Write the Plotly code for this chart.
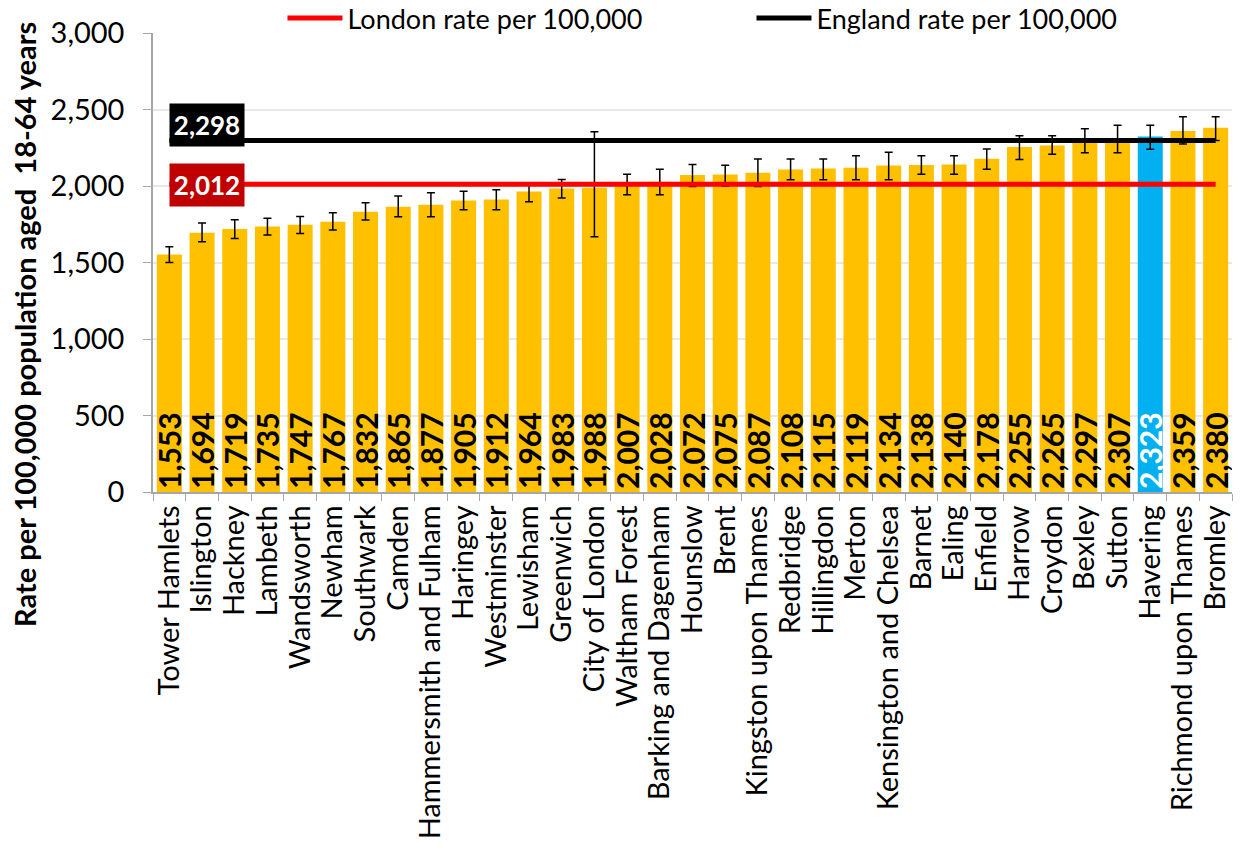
import plotly.graph_objects as go

categories = ["Tower Hamlets", "Islington", "Hackney", "Lambeth", "Wandsworth", "Newham",
              "Southwark", "Camden", "Hammersmith and Fulham", "Haringey", "Westminster",
              "Lewisham", "Greenwich", "City of London", "Waltham Forest", "Barking and Dagenham",
              "Hounslow", "Brent", "Kingston upon Thames", "Redbridge", "Hillingdon", "Merton",
              "Kensington and Chelsea", "Barnet", "Ealing", "Enfield", "Harrow", "Croydon",
              "Bexley", "Sutton", "Havering", "Richmond upon Thames", "Bromley"]
values = [1553, 1694, 1719, 1735, 1747, 1767, 1832, 1865, 1877, 1905, 1912, 1964, 1983, 1988,
          2007, 2028, 2072, 2075, 2087, 2108, 2115, 2119, 2134, 2138, 2140, 2178, 2255, 2265,
          2297, 2307, 2323, 2359, 2380]
errors_plus = [50, 64, 60, 55, 54, 58, 59, 69, 79, 60, 64, 58, 60, 366, 69, 81, 69, 60, 90, 69,
               62, 79, 86, 60, 58, 64, 74, 64, 78, 90, 74, 93, 72]
errors_minus = [53, 59, 62, 56, 57, 55, 55, 66, 78, 60, 67, 67, 62, 320, 64, 85, 75, 76, 90, 67,
                74, 78, 93, 62, 64, 69, 81, 58, 79, 89, 83, 84, 83]
highlight = "Havering"
london_rate = 2012
england_rate = 2298
y_ticks = [0, 500, 1000, 1500, 2000, 2500, 3000]

FONT = "Lato, Carlito, 'Liberation Sans', sans-serif"
GOLD = "#FFC000"
BLUE = "#00B0F0"

bar_colors = [BLUE if c == highlight else GOLD for c in categories]
text_colors = ["#FFFFFF" if c == highlight else "#000000" for c in categories]

fig = go.Figure()
fig.add_trace(go.Bar(
    x=categories, y=values,
    marker=dict(color=bar_colors, line=dict(width=0)),
    error_y=dict(type="data", array=errors_plus, arrayminus=errors_minus, symmetric=False,
                 visible=True, color="#000000", thickness=1.5, width=4),
    text=[f"{v:,}" for v in values],
    textposition="inside", insidetextanchor="start", textangle=-90,
    constraintext="none",
    textfont=dict(family=FONT, size=30, color=text_colors, weight="bold"),
    showlegend=False, hoverinfo="x+y",
))
fig.add_trace(go.Scatter(
    x=[categories[0], categories[-1]], y=[london_rate, london_rate], mode="lines",
    line=dict(color="#FF0000", width=5), name="London rate per 100,000",
))
fig.add_trace(go.Scatter(
    x=[categories[0], categories[-1]], y=[england_rate, england_rate], mode="lines",
    line=dict(color="#000000", width=5), name="England rate per 100,000",
))

fig.add_annotation(x=categories[0], y=england_rate, xref="x", yref="y", text=f"<b>{england_rate:,}</b>",
                   showarrow=False, xanchor="left", yanchor="middle", yshift=15, width=72, height=40,
                   bgcolor="#000000", font=dict(family=FONT, size=26, color="#FFFFFF"))
fig.add_annotation(x=categories[0], y=london_rate, xref="x", yref="y", text=f"<b>{london_rate:,}</b>",
                   showarrow=False, xanchor="left", yanchor="middle", yshift=-1, width=72, height=40,
                   bgcolor="#C00000", font=dict(family=FONT, size=26, color="#FFFFFF"))

# y-axis title placed as a rotated annotation (centred like the original)
fig.add_annotation(x=-0.1186, y=0.364, xref="paper", yref="paper",
                   text="<b>Rate per 100,000 population aged  18-64 years</b>",
                   textangle=-90, showarrow=False, xanchor="center", yanchor="middle",
                   font=dict(family=FONT, size=29, color="#000000"))

fig.update_layout(
    width=1240, height=854,
    margin=dict(l=153, r=8, t=33, b=362, autoexpand=False),
    paper_bgcolor="#FFFFFF", plot_bgcolor="#FFFFFF",
    font=dict(family=FONT, size=28, color="#000000"),
    bargap=0.235,
    legend=dict(orientation="h", x=0.12, xanchor="left", y=1.085, yanchor="top",
                font=dict(family=FONT, size=27, color="#000000"),
                entrywidth=399, bgcolor="rgba(0,0,0,0)", itemwidth=55),
    xaxis=dict(type="category", tickmode="array", tickvals=categories, ticktext=categories,
               tickangle=-90, showline=True, linecolor="#A6A6A6", linewidth=1.5,
               ticks="outside", tickson="boundaries", ticklen=7, tickcolor="#A6A6A6",
               tickfont=dict(family=FONT, size=29, color="#000000"), showgrid=False),
    yaxis=dict(range=[0, 3000], tickvals=y_ticks, ticktext=[f"{t:,}" for t in y_ticks],
               showline=True, linecolor="#A6A6A6", linewidth=1.5,
               ticks="outside", ticklen=21, tickcolor="rgba(0,0,0,0)",
               minor=dict(tickvals=y_ticks, ticks="outside", ticklen=8, tickcolor="#A6A6A6",
                          showgrid=False),
               showgrid=True, gridcolor="#E8E8E8", gridwidth=1.5,
               tickfont=dict(family=FONT, size=29, color="#000000"), zeroline=False),
)

fig.write_html("out.html", config={"displayModeBar": False},
               post_script="document.body.style.margin='0';")
